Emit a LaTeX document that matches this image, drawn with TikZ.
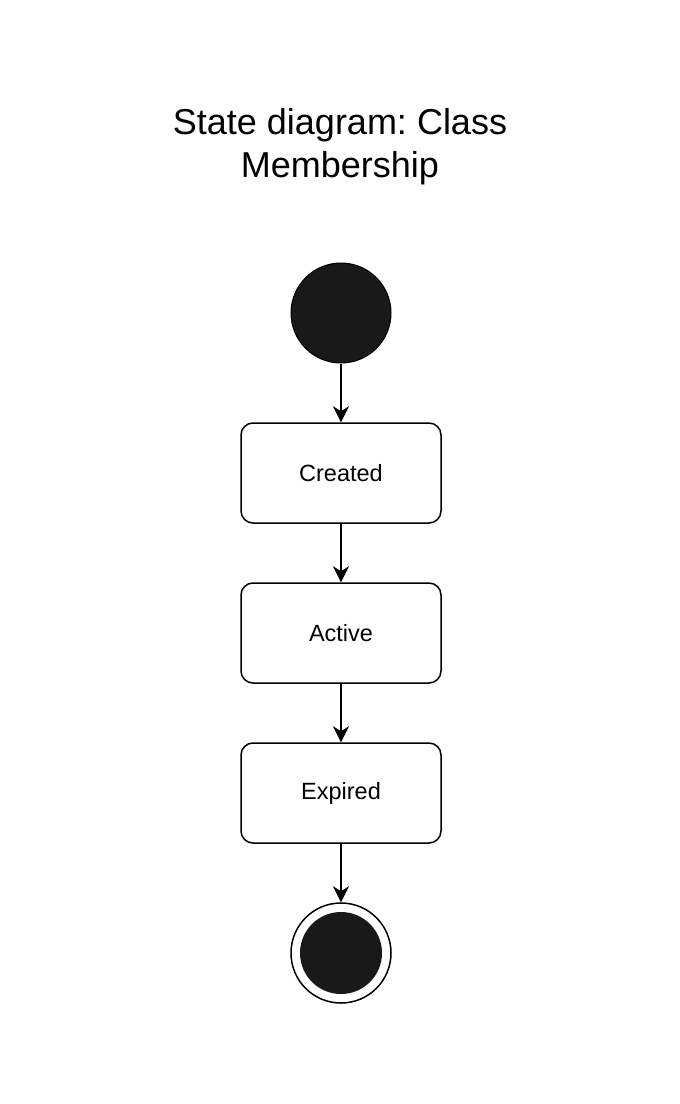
\documentclass[tikz,border=0pt]{standalone}
\usepackage{fontspec}
\setmainfont{Liberation Sans}
\usetikzlibrary{arrows.meta}
\definecolor{stfill}{RGB}{25,25,25}
\frenchspacing
\begin{document}
\begin{tikzpicture}[x=1pt, y=-1pt,
        state/.style={draw, line width=1.5pt, rounded corners=12pt, minimum width=200pt, minimum height=100pt, font=\fontsize{23.5}{28}\selectfont},
        flow/.style={line width=1.5pt, -{Stealth[length=16pt, width=16pt, inset=5pt]}}]
            \useasboundingbox (0,0) rectangle (680,1104);
            \node[align=center, font=\fontsize{36}{43}\selectfont] (title) at (340,147) {State diagram: Class\\Membership};
            \node[draw, circle, fill=stfill, line width=1pt, minimum size=100pt, inner sep=0pt] (start) at (341,313) {};
            \node[state] (created) at (341,473) {Created};
            \node[state] (active) at (341,633) {Active};
            \node[state] (expired) at (341,793) {Expired};
            \node[draw, circle, line width=1.5pt, minimum size=100pt, inner sep=0pt] (end) at (341,953) {};
            \fill[stfill] (end.center) circle (41pt);
            \draw[flow] (start) -- (created);
            \draw[flow] (created) -- (active);
            \draw[flow] (active) -- (expired);
            \draw[flow] (expired) -- (end);
        \end{tikzpicture}
\end{document}
